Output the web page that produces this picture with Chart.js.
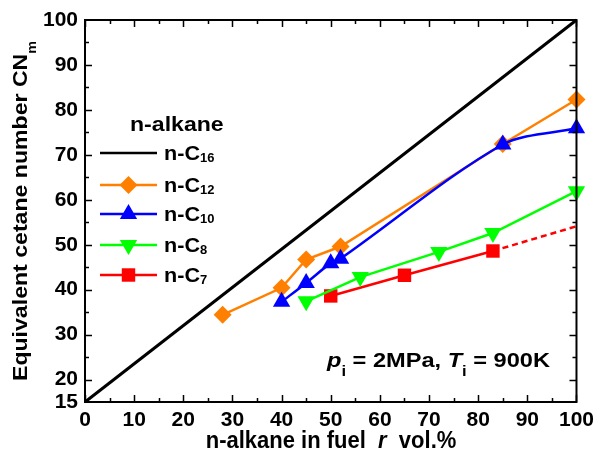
<!DOCTYPE html>
<html>
<head>
<meta charset="utf-8">
<script src="https://cdn.jsdelivr.net/npm/chart.js@4/dist/chart.umd.min.js"></script>
<style>
  html, body { margin: 0; padding: 0; background: #fff; }
  #wrap { width: 600px; height: 457px; }
</style>
</head>
<body>
<div id="wrap"><canvas id="chart" width="600" height="457"></canvas></div>
<script>
const xTicks = [0, 10, 20, 30, 40, 50, 60, 70, 80, 90, 100];
const yTicks = [15, 20, 30, 40, 50, 60, 70, 80, 90, 100];

// n-alkane share r (vol.%) vs equivalent cetane number
const c16X = [0, 100];
const c16Y = [15, 100];
const c12X = [28, 40, 45, 52, 85, 100];
const c12Y = [34.4, 40.4, 46.7, 49.6, 72.4, 82.3];
const c10X = [40, 45, 50, 52, 85, 100];
const c10Y = [37.3, 41.5, 45.9, 46.9, 72.3, 75.9];
const c8X = [45, 56, 72, 83, 100];
const c8Y = [37.4, 42.8, 48.4, 52.6, 61.9];
const c7X = [50, 65, 83];
const c7Y = [38.6, 43.2, 48.6];
const c7ExtX = [83, 100];
const c7ExtY = [48.6, 54.1];

const legendTitle = "n-alkane";
const legendNames = ["n-C16", "n-C12", "n-C10", "n-C8", "n-C7"];

const FONT = '"Liberation Sans", Arial, sans-serif';

const toXY = (xs, ys) => xs.map((x, i) => ({ x: x, y: ys[i] }));

const series = {
  "n-C16": { color: "#000000", style: false, rot: 0, r: 0 },
  "n-C12": { color: "#FF8000", style: "rectRot", rot: 0, r: 9 },
  "n-C10": { color: "#0000FF", style: "triangle", rot: 0, r: 10 },
  "n-C8": { color: "#00FF00", style: "triangle", rot: 180, r: 10 },
  "n-C7": { color: "#FF0000", style: "rect", rot: 0, r: 9.5 },
};

const mkSet = (name, data, extra) =>
  Object.assign(
    {
      label: name,
      data: data,
      borderColor: series[name].color,
      backgroundColor: series[name].color,
      borderWidth: 2.5,
      pointStyle: series[name].style,
      pointRotation: series[name].rot,
      pointRadius: series[name].r,
      pointHoverRadius: series[name].r,
      pointBorderWidth: 0,
      tension: 0,
      clip: false,
    },
    extra || {}
  );

// text pieces with italic / subscript parts, optionally stretched
const drawRich = (ctx, parts, x, y, size, align, o) => {
  o = Object.assign({ sx: 1, sy: 1, subScale: 0.62, subDy: 0.28 }, o || {});
  const fontOf = (p) =>
    (p.italic ? "italic " : "") + "bold " + Math.round(p.sub ? size * o.subScale : size) + "px " + FONT;
  let total = 0;
  parts.forEach((p) => {
    ctx.font = fontOf(p);
    p.w = ctx.measureText(p.t).width;
    total += p.w;
  });
  ctx.save();
  ctx.translate(x, y);
  ctx.scale(o.sx, o.sy);
  let cx = align === "center" ? -total / 2 : 0;
  ctx.textAlign = "left";
  ctx.textBaseline = "alphabetic";
  parts.forEach((p) => {
    ctx.font = fontOf(p);
    ctx.fillText(p.t, cx, p.sub ? size * o.subDy : 0);
    cx += p.w;
  });
  ctx.restore();
};

const nameParts = (name) => {
  const m = name.match(/^(\D+)(\d+)$/);
  return [{ t: m[1] }, { t: m[2], sub: true }];
};

const framePlugin = {
  id: "frame",
  afterDatasetsDraw(chart) {
    const ctx = chart.ctx;
    const a = chart.chartArea;
    const xs = chart.scales.x, ys = chart.scales.y;
    ctx.save();
    ctx.strokeStyle = "#000";
    ctx.lineWidth = 2;
    ctx.strokeRect(a.left, a.top, a.right - a.left, a.bottom - a.top);
    ctx.lineWidth = 1.5;
    ctx.beginPath();
    for (let v = 0; v <= 100; v += 5) {
      const px = Math.round(xs.getPixelForValue(v)) + 0.5;
      const len = v % 10 === 0 ? 7 : 4;
      ctx.moveTo(px, a.bottom); ctx.lineTo(px, a.bottom - len);
      ctx.moveTo(px, a.top); ctx.lineTo(px, a.top + len);
    }
    for (let v = 20; v < 100; v += 5) {
      const py = Math.round(ys.getPixelForValue(v)) + 0.5;
      const len = v % 10 === 0 ? 7 : 4;
      ctx.moveTo(a.left, py); ctx.lineTo(a.left + len, py);
      ctx.moveTo(a.right, py); ctx.lineTo(a.right - len, py);
    }
    ctx.stroke();
    ctx.restore();
  },
  afterDraw(chart) {
    const ctx = chart.ctx;
    ctx.save();
    ctx.fillStyle = "#000";

    // axis titles
    drawRich(ctx, [{ t: "n-alkane in fuel  " }, { t: "r", italic: true }, { t: "  vol.%" }],
      331, 448, 22, "center", { sy: 1.1 });
    ctx.save();
    ctx.translate(27, 211);
    ctx.rotate(-Math.PI / 2);
    drawRich(ctx, [{ t: "Equivalent cetane number " }, { t: "CN" }, { t: "m", sub: true }],
      0, 0, 21, "center", { sx: 1.1, subDy: 0.45, subScale: 0.6 });
    ctx.restore();

    // condition note
    drawRich(ctx, [
      { t: "p", italic: true }, { t: "i", sub: true }, { t: " = 2MPa, " },
      { t: "T", italic: true }, { t: "i", sub: true }, { t: " = 900K" },
    ], 327, 367, 20, "left", { sx: 1.18, subDy: 0.45, subScale: 0.7 });

    // legend
    drawRich(ctx, [{ t: legendTitle }], 130, 131, 21, "left", { sx: 1.1 });
    const rows = [153, 185, 214, 245, 275];
    legendNames.forEach((name, i) => {
      const s = series[name];
      const y = rows[i];
      ctx.strokeStyle = s.color;
      ctx.fillStyle = s.color;
      ctx.lineWidth = 2.5;
      ctx.beginPath();
      ctx.moveTo(100, y);
      ctx.lineTo(157, y);
      ctx.stroke();
      if (s.style) {
        Chart.helpers.drawPoint(ctx, { pointStyle: s.style, rotation: s.rot, radius: s.r, borderWidth: 0 }, 128.5, y);
      }
      ctx.fillStyle = "#000";
      drawRich(ctx, nameParts(name), 164, y + 7, 20, "left", { sx: 1.08, subDy: 0.08, subScale: 0.62 });
    });
    ctx.restore();
  },
};

new Chart(document.getElementById("chart"), {
  type: "line",
  data: {
    datasets: [
      mkSet("n-C10", toXY(c10X, c10Y), { tension: 0.3 }),
      mkSet("n-C12", toXY(c12X, c12Y)),
      mkSet("n-C8", toXY(c8X, c8Y)),
      mkSet("n-C7", toXY(c7X, c7Y)),
      mkSet("n-C7", toXY(c7ExtX, c7ExtY), { pointRadius: 0, borderDash: [6, 4] }),
      mkSet("n-C16", toXY(c16X, c16Y), { pointRadius: 0, borderWidth: 3 }),
    ],
  },
  options: {
    responsive: false,
    animation: false,
    events: [],
    layout: { padding: { top: 20, right: 21, left: 0, bottom: 0 } },
    plugins: { legend: { display: false }, tooltip: { enabled: false } },
    scales: {
      x: {
        type: "linear",
        min: 0,
        max: 100,
        afterBuildTicks: (s) => { s.ticks = xTicks.map((v) => ({ value: v })); },
        afterFit: (s) => { s.height = 55; },
        grid: { display: false, drawTicks: false },
        border: { display: false },
        ticks: { color: "#000", padding: 6, maxRotation: 0, font: { family: FONT, size: 21, weight: "bold" } },
      },
      y: {
        type: "linear",
        min: 15,
        max: 100,
        afterBuildTicks: (s) => { s.ticks = yTicks.map((v) => ({ value: v })); },
        afterFit: (s) => { s.width = 85; },
        grid: { display: false, drawTicks: false },
        border: { display: false },
        ticks: { color: "#000", padding: 7, font: { family: FONT, size: 21, weight: "bold" } },
      },
    },
  },
  plugins: [framePlugin],
});
</script>
</body>
</html>
